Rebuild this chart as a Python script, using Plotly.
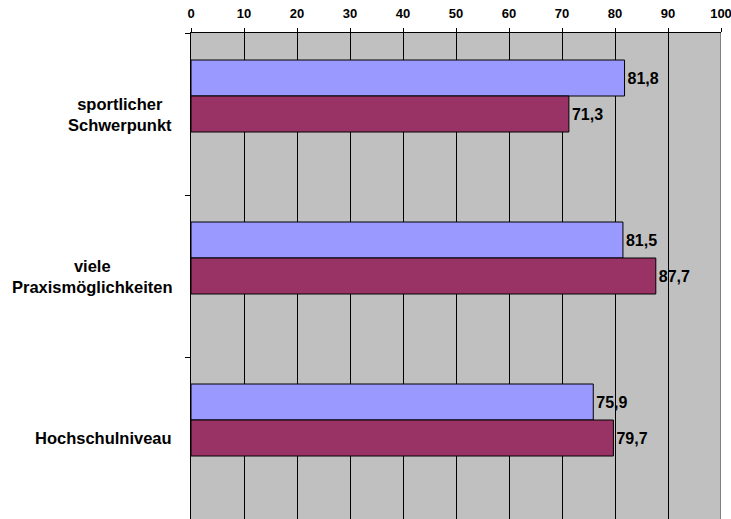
import plotly.graph_objects as go

categories = ["sportlicher<br>Schwerpunkt", "viele<br>Praxismöglichkeiten", "Hochschulniveau"]
series_a = [81.8, 81.5, 75.9]
series_b = [71.3, 87.7, 79.7]
series_c = [None, None, None]  # empty third series (reserves space in each group)
x_ticks = [0, 10, 20, 30, 40, 50, 60, 70, 80, 90, 100]

def fmt(v):
    return f"{v:.1f}".replace(".", ",")

FONT = "Liberation Sans, Arial, sans-serif"

fig = go.Figure()
fig.add_trace(go.Bar(
    y=categories, x=series_a, orientation="h",
    marker=dict(color="#9999FF", line=dict(color="#000000", width=1)),
    text=[fmt(v) for v in series_a], textposition="outside",
    textfont=dict(family=FONT, size=16, color="#000000", weight="bold"),
    cliponaxis=False, name="A",
))
fig.add_trace(go.Bar(
    y=categories, x=series_b, orientation="h",
    marker=dict(color="#993366", line=dict(color="#000000", width=1)),
    text=[fmt(v) for v in series_b], textposition="outside",
    textfont=dict(family=FONT, size=16, color="#000000", weight="bold"),
    cliponaxis=False, name="B",
))
fig.add_trace(go.Bar(
    y=categories, x=series_c, orientation="h",
    marker=dict(color="#FFFFCC", line=dict(color="#000000", width=1)),
    name="C",
))

for cat in categories:
    fig.add_annotation(
        x=0, xref="paper", y=cat, yref="y",
        text=f"<b>{cat}</b>", showarrow=False,
        xanchor="right", yanchor="middle", align="center", xshift=-17,
        font=dict(family=FONT, size=16.5, color="#000000"),
    )

fig.add_shape(type="line", xref="x", yref="paper", x0=100, x1=100, y0=0, y1=1,
              line=dict(color="#808080", width=2), layer="above")

fig.update_layout(
    width=731, height=519,
    margin=dict(l=191, r=10, t=33, b=0),
    paper_bgcolor="#FFFFFF", plot_bgcolor="#C0C0C0",
    barmode="group", bargap=1/3, bargroupgap=0,
    showlegend=False,
    font=dict(family=FONT, color="#000000"),
    xaxis=dict(
        side="top", range=[0, 100], tickvals=x_ticks,
        showgrid=True, gridcolor="#000000", gridwidth=1,
        showline=True, linecolor="#000000", linewidth=1,
        ticks="outside", ticklen=4, tickcolor="#000000",
        ticklabelstandoff=5, ticklabeloverflow="allow",
        tickfont=dict(family=FONT, size=13, color="#000000", weight="bold"),
        zeroline=False, fixedrange=True,
    ),
    yaxis=dict(
        autorange="reversed", showticklabels=False,
        showline=True, linecolor="#000000", linewidth=1,
        ticks="outside", ticklen=5, tickcolor="#000000", tickson="boundaries",
        showgrid=False, zeroline=False, fixedrange=True,
    ),
)

fig.write_html("out.html")
